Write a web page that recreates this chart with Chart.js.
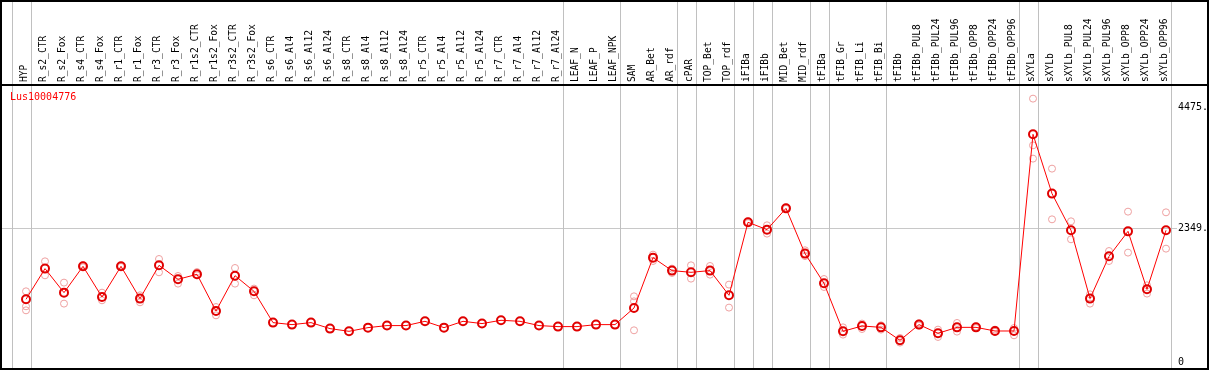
<!DOCTYPE html>
<html>
<head>
<meta charset="utf-8">
<script src="https://cdn.jsdelivr.net/npm/chart.js@4"></script>
<style>
  body { margin: 0; background: #fff; }
  #wrap { width: 1209px; height: 370px; position: relative; }
</style>
</head>
<body>
<div id="wrap"><canvas id="expr-chart"></canvas></div>
<script>
// samples along the top axis
const categories = ['HYP', 'R_s2_CTR', 'R_s2_Fox', 'R_s4_CTR', 'R_s4_Fox', 'R_r1_CTR', 'R_r1_Fox',
    'R_r3_CTR', 'R_r3_Fox', 'R_r1s2_CTR', 'R_r1s2_Fox', 'R_r3s2_CTR', 'R_r3s2_Fox',
    'R_s6_CTR', 'R_s6_Al4', 'R_s6_Al12', 'R_s6_Al24', 'R_s8_CTR', 'R_s8_Al4', 'R_s8_Al12', 'R_s8_Al24',
    'R_r5_CTR', 'R_r5_Al4', 'R_r5_Al12', 'R_r5_Al24', 'R_r7_CTR', 'R_r7_Al4', 'R_r7_Al12', 'R_r7_Al24',
    'LEAF_N', 'LEAF_P', 'LEAF_NPK', 'SAM', 'AR_Bet', 'AR_rdf', 'cPAR', 'TOP_Bet', 'TOP_rdf',
    'iFIBa', 'iFIBb', 'MID_Bet', 'MID_rdf', 'tFIBa', 'tFIB_Gr', 'tFIB_Li', 'tFIB_Bi', 'tFIBb',
    'tFIBb_PUL8', 'tFIBb_PUL24', 'tFIBb_PUL96', 'tFIBb_OPP8', 'tFIBb_OPP24', 'tFIBb_OPP96',
    'sXYLa', 'sXYLb', 'sXYLb_PUL8', 'sXYLb_PUL24', 'sXYLb_PUL96', 'sXYLb_OPP8', 'sXYLb_OPP24', 'sXYLb_OPP96'];

// mean expression per sample
const means = [1102, 1641, 1219, 1681, 1142, 1681, 1114, 1699, 1453, 1541, 896, 1517, 1242,
    692, 657, 692, 587, 539, 604, 640, 640, 715, 604, 715, 675, 733, 715, 640, 622,
    622, 657, 657, 949, 1834, 1606, 1576, 1606, 1172, 2455, 2326, 2700, 1905, 1383,
    539, 633, 609, 381, 657, 504, 609, 609, 545, 545,
    4001, 2959, 2314, 1114, 1857, 2296, 1277, 2314];

// individual replicates
const repA = [1242, 1769, 1395, 1700, 1219, 1695, 1172, 1810, 1511, 1581, 966, 1652, 1290,
    null, null, null, null, null, null, null, null, null, null, null, null, null, null, null, null,
    null, null, null, 1154, 1887, 1641, 1699, 1687, 1360, 2470, 2402, 2715, 1963, 1458,
    609, 675, 645, 422, 680, 569, 686, 625, 569, 597,
    4628, 3398, 2472, 1189, 1950, 2642, 1348, 2630];
const repB = [979, 1523, 1026, 1665, 1084, 1670, 1049, 1576, 1377, 1523, 820, 1377, 1172,
    null, null, null, null, null, null, null, null, null, null, null, null, null, null, null, null,
    null, null, null, 1066, 1775, 1564, 1465, 1535, 956, 2440, 2256, 2690, 1862, 1318,
    481, 580, 569, 341, 640, 440, 534, 595, 530, 469,
    3807, 2507, 2156, 1026, 1775, 1922, 1202, 1992];
const repC = [908, null, null, null, null, null, null, null, null, null, null, null, null,
    null, null, null, null, null, null, null, null, null, null, null, null, null, null, null, null,
    null, null, null, 557, null, null, null, null, null, null, null, null, null, null,
    null, null, null, null, null, null, null, null, null, null,
    3574, null, null, null, null, null, null, null];

// y tick labels and group separators (after these sample indices)
const yTicks = [0, 2349, 4475];
const groupEnds = [-1, 0, 28, 31, 34, 35, 37, 38, 39, 41, 42, 45, 52, 53, 60];
const geneName = 'Lus10004776';

const monoFont = "'DejaVu Sans Mono', 'Liberation Mono', monospace";

function toPoints(arr) {
    return arr.map((v, i) => ({ x: i, y: v })).filter(p => p.y !== null);
}

// frame, header rule, group separators and gene name
const framePlugin = {
    id: 'frame',
    beforeDatasetsDraw(chart) {
        const ctx = chart.ctx;
        const x = chart.scales.x;
        ctx.save();
        ctx.strokeStyle = '#c0c0c0';
        ctx.lineWidth = 1;
        groupEnds.forEach(g => {
            const px = Math.round(x.getPixelForValue(g + 0.237)) + 0.5;
            ctx.beginPath();
            ctx.moveTo(px, 0);
            ctx.lineTo(px, chart.chartArea.bottom);
            ctx.stroke();
        });
        ctx.restore();
    },
    afterDraw(chart) {
        const ctx = chart.ctx;
        const area = chart.chartArea;
        ctx.save();
        ctx.strokeStyle = '#000';
        ctx.lineWidth = 2;
        ctx.strokeRect(1, 1, chart.width - 2, chart.height - 2);
        ctx.beginPath();
        ctx.moveTo(0, area.top - 1);
        ctx.lineTo(chart.width, area.top - 1);
        ctx.stroke();
        ctx.fillStyle = '#ff0000';
        ctx.font = '10px ' + monoFont;
        ctx.textBaseline = 'top';
        ctx.fillText(geneName, 10, area.top + 6);
        ctx.restore();
    }
};

new Chart(document.getElementById('expr-chart'), {
    type: 'scatter',
    data: {
        datasets: [{
            label: 'mean',
            data: toPoints(means),
            showLine: true,
            borderColor: '#ff0000',
            borderWidth: 1,
            pointRadius: 4,
            pointBorderWidth: 2,
            pointBorderColor: '#e00000',
            pointBackgroundColor: 'rgba(0,0,0,0)',
            order: 0
        }, {
            label: 'rep A',
            data: toPoints(repA),
            pointRadius: 3.5,
            pointBorderWidth: 1,
            pointBorderColor: '#eea0a0',
            pointBackgroundColor: 'rgba(0,0,0,0)',
            order: 1
        }, {
            label: 'rep B',
            data: toPoints(repB),
            pointRadius: 3.5,
            pointBorderWidth: 1,
            pointBorderColor: '#eea0a0',
            pointBackgroundColor: 'rgba(0,0,0,0)',
            order: 1
        }, {
            label: 'rep C',
            data: toPoints(repC),
            pointRadius: 3.5,
            pointBorderWidth: 1,
            pointBorderColor: '#eea0a0',
            pointBackgroundColor: 'rgba(0,0,0,0)',
            order: 1
        }]
    },
    options: {
        responsive: true,
        maintainAspectRatio: false,
        animation: false,
        layout: { autoPadding: false, padding: { left: 1, right: 1, top: 0, bottom: 1 } },
        plugins: { legend: { display: false }, tooltip: { enabled: false } },
        scales: {
            x: {
                type: 'linear',
                position: 'top',
                min: -25 / 19,
                max: -25 / 19 + 1176 / 19,
                afterBuildTicks: s => { s.ticks = categories.map((c, i) => ({ value: i })); },
                afterFit: s => { s.height = 86; s.paddingLeft = 0; s.paddingRight = 0; },
                ticks: {
                    autoSkip: false,
                    minRotation: 90,
                    maxRotation: 90,
                    padding: 4,
                    labelOffset: 10.5,
                    color: '#000',
                    font: { family: monoFont, size: 9.6 },
                    callback: v => categories[v] || ''
                },
                grid: { display: false, drawTicks: false },
                border: { display: false }
            },
            y: {
                type: 'linear',
                position: 'right',
                min: -123,
                max: 4850,
                afterBuildTicks: s => { s.ticks = yTicks.map(v => ({ value: v })); },
                afterFit: s => { s.width = 31; s.paddingTop = 0; s.paddingBottom = 0; },
                ticks: {
                    padding: 1,
                    color: '#000',
                    font: { family: monoFont, size: 10 },
                    callback: v => v === 0 ? '0' : v + '.'
                },
                grid: {
                    drawTicks: false,
                    color: ctx => (ctx.tick && ctx.tick.value === 2349) ? '#c8c8c8' : 'rgba(0,0,0,0)'
                },
                border: { display: false }
            }
        }
    },
    plugins: [framePlugin]
});
</script>
</body>
</html>
